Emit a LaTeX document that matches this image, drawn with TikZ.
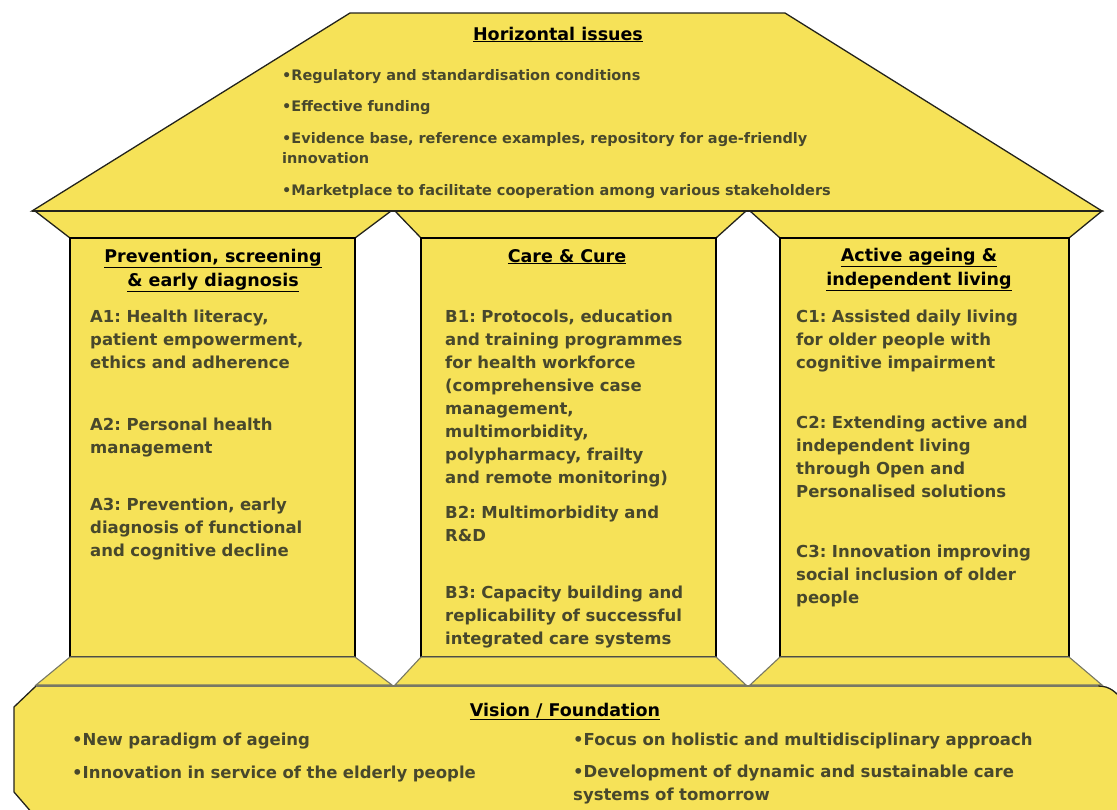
\documentclass[tikz,border=0pt]{standalone}
\usepackage{fontspec}
\setmainfont{DejaVu Sans}
\frenchspacing
\definecolor{hy}{RGB}{246,226,88}
\definecolor{txt}{RGB}{72,72,44}
\definecolor{edge}{RGB}{35,35,28}
\definecolor{softedge}{RGB}{120,120,100}
\begin{document}
\begin{tikzpicture}[x=1pt,y=-1pt,
  part/.style={fill=hy,draw=edge,line width=1.3pt,line join=miter},
  basepart/.style={fill=hy,draw=softedge,line width=1.1pt,line join=miter},
  pillar/.style={fill=hy,draw=black,line width=2pt},
  body/.style={anchor=base west,inner sep=0pt,align=left,text width=300pt,text=txt,
    font=\bfseries\fontsize{16.5}{23}\selectfont\frenchspacing},
  roofitem/.style={anchor=base west,inner sep=0pt,align=left,text width=640pt,text=txt,
    font=\bfseries\fontsize{14.5}{20}\selectfont\frenchspacing},
  heading/.style={anchor=base,inner sep=0pt,align=center,text=black,
    font=\bfseries\fontsize{17.5}{23.5}\selectfont},
  fitem/.style={anchor=base west,inner sep=0pt,align=left,text width=520pt,text=txt,
    font=\bfseries\fontsize{16.5}{23}\selectfont\frenchspacing}]
\useasboundingbox (0,0) rectangle (1117,809);
\clip (0,0) rectangle (1117,809);

% capitals (below roof)
\draw[part] (35,211) -- (391,211) -- (355,238) -- (70,238) -- cycle;
\draw[part] (395,211) -- (746,211) -- (716,238) -- (421,238) -- cycle;
\draw[part] (750,211) -- (1102,211) -- (1069,238) -- (780,238) -- cycle;

% roof
\draw[part] (350,13) -- (785,13) -- (1102,211) -- (32,211) -- cycle;
\draw[draw=edge,line width=2.4pt] (32,211) -- (1102,211);

% pillars
\draw[pillar] (70,238) rectangle (355,657);
\draw[pillar] (421,238) rectangle (716,657);
\draw[pillar] (780,238) rectangle (1069,657);

% bases
\draw[basepart] (70,657) -- (355,657) -- (392,685) -- (36,685) -- cycle;
\draw[basepart] (421,657) -- (716,657) -- (746,685) -- (395,685) -- cycle;
\draw[basepart] (780,657) -- (1069,657) -- (1102,685) -- (750,685) -- cycle;

% foundation
\draw[part] (33,814) -- (14,792) -- (14,707) -- (36,686) -- (1098,686)
  .. controls (1110,686) and (1116,692) .. (1124,702) -- (1124,814) -- cycle;
\draw[draw=softedge,line width=2.2pt] (36,686) -- (1098,686);

% roof texts
\node[heading] (htitle) at (558,40) {\underline{Horizontal issues}};
\node[roofitem] (h1) at (282,80) {•Regulatory and standardisation conditions};
\node[roofitem] (h2) at (282,111) {•Effective funding};
\node[roofitem] (h3) at (282,143) {•Evidence base, reference examples, repository for age-friendly\\innovation};
\node[roofitem] (h4) at (282,195) {•Marketplace to facilitate cooperation among various stakeholders};

% pillar A
\node[heading] (ahead) at (213,286) {\underline{Prevention, screening}\\\underline{\& early diagnosis}};
\node[body] (a1) at (90,322) {A1: Health literacy,\\patient empowerment,\\ethics and adherence};
\node[body] (a2) at (90,430) {A2: Personal health\\management};
\node[body] (a3) at (90,510) {A3: Prevention, early\\diagnosis of functional\\and cognitive decline};

% pillar B
\node[heading] (bhead) at (567,262) {\underline{Care \& Cure}};
\node[body] (b1) at (445,322) {B1: Protocols, education\\and training programmes\\for health workforce\\(comprehensive case\\management,\\multimorbidity,\\polypharmacy, frailty\\and remote monitoring)};
\node[body] (b2) at (445,518) {B2: Multimorbidity and\\R\&D};
\node[body] (b3) at (445,598) {B3: Capacity building and\\replicability of successful\\integrated care systems};

% pillar C
\node[heading] (chead) at (919,285) {\underline{Active ageing \&}\\\underline{independent living}};
\node[body] (c1) at (796,322) {C1: Assisted daily living\\for older people with\\cognitive impairment};
\node[body] (c2) at (796,428) {C2: Extending active and\\independent living\\through Open and\\Personalised solutions};
\node[body] (c3) at (796,557) {C3: Innovation improving\\social inclusion of older\\people};

% foundation texts
\node[heading] (ftitle) at (565,716) {\underline{Vision / Foundation}};
\node[fitem] (f1) at (72,745) {•New paradigm of ageing};
\node[fitem] (f2) at (72,778) {•Innovation in service of the elderly people};
\node[fitem] (f3) at (573,745) {•Focus on holistic and multidisciplinary approach};
\node[fitem] (f4) at (573,777) {•Development of dynamic and sustainable care\\systems of tomorrow};
\end{tikzpicture}
\end{document}
